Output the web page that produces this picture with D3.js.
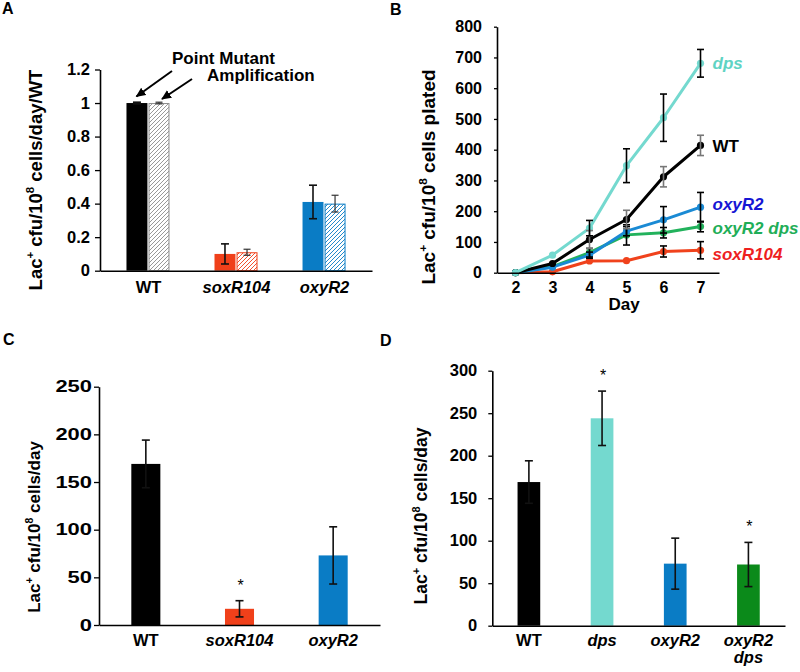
<!DOCTYPE html>
<html><head><meta charset="utf-8">
<script src="https://cdn.jsdelivr.net/npm/d3@7"></script>
<style>
html,body{margin:0;padding:0;background:#fff;}
svg{display:block;}
</style></head>
<body>
<svg id="chart" width="800" height="672"></svg>
<script>
// ---------- DATA ----------
// Panel A
const catsA = ["WT", "soxR104", "oxyR2"];
const pointMutant = [1.0, 0.10, 0.41];
const pointMutantErr = [0.005, 0.06, 0.10];
const amplification = [1.0, 0.11, 0.40];
const amplificationErr = [0.005, 0.018, 0.05];
const ticksA = [0, 0.2, 0.4, 0.6, 0.8, 1, 1.2];

// Panel B
const days = [2, 3, 4, 5, 6, 7];
const seriesB = ["dps", "WT", "oxyR2", "oxyR2 dps", "soxR104"];
const dpsVals = [0, 57, 145, 348, 504, 681];
const dpsErr = [0, 0, 25, 55, 77, 45];
const wtVals = [0, 30, 108, 173, 312, 414];
const wtErr = [0, 0, 29, 30, 33, 33];
const oxyR2Vals = [0, 18, 57, 135, 172, 213];
const oxyR2Err = [0, 0, 10, 15, 43, 48];
const oxyR2dpsVals = [0, 20, 65, 123, 130, 150];
const oxyR2dpsErr = [0, 0, 14, 33, 17, 17];
const soxR104Vals = [0, 3, 38, 39, 69, 73];
const soxR104Err = [0, 0, 0, 0, 18, 28];
const ticksB = [0, 100, 200, 300, 400, 500, 600, 700, 800];

// Panel C
const catsC = ["WT", "soxR104", "oxyR2"];
const valsC = [169, 17, 73];
const errC = [25, 8.5, 30];
const starC = [false, true, false];
const ticksC = [0, 50, 100, 150, 200, 250];

// Panel D
const catsD = ["WT", "dps", "oxyR2", "oxyR2 dps"];
const valsD = [169, 244, 73, 72];
const errD = [25, 32, 30, 26];
const starD = [false, true, false, true];
const ticksD = [0, 50, 100, 150, 200, 250, 300];

// ---------- STYLE ----------
const FONT = "'Liberation Sans', Arial, Helvetica, sans-serif";
const C_RED = "#f0401a", C_BLUE = "#0a7cc5", C_TURQ = "#74d9cf", C_GREEN_D = "#0b8a1a";
const colorsA = {WT: "#000000", soxR104: C_RED, oxyR2: C_BLUE};
const hatchA = {WT: "#8c8c8c", soxR104: C_RED, oxyR2: C_BLUE};
const colorsC = {WT: "#000000", soxR104: C_RED, oxyR2: C_BLUE};
const colorsD = {"WT": "#000000", "dps": C_TURQ, "oxyR2": C_BLUE, "oxyR2 dps": C_GREEN_D};
const lineColB = {"dps": "#74d9cf", "WT": "#000000", "oxyR2": "#1a8ad4", "oxyR2 dps": "#22b25c", "soxR104": "#f0421c"};
const labelColB = {"dps": "#5fd3c3", "WT": "#000000", "oxyR2": "#1616d4", "oxyR2 dps": "#1fae58", "soxR104": "#ee1f1f"};
const errColB = {"dps": "#000", "WT": "#777", "oxyR2": "#000", "oxyR2 dps": "#000", "soxR104": "#000"};

const svg = d3.select("#chart").attr("font-family", FONT);
const defs = svg.append("defs");

// hatch patterns
Object.entries(hatchA).forEach(([k, col]) => {
  const p = defs.append("pattern").attr("id", "hatch-" + k)
    .attr("patternUnits", "userSpaceOnUse").attr("width", 4).attr("height", 4);
  p.append("rect").attr("width", 4).attr("height", 4).attr("fill", "#fff");
  p.append("path").attr("d", "M-1,1 l2,-2 M0,4 l4,-4 M3,5 l2,-2")
    .attr("stroke", col).attr("stroke-width", 0.9);
});
// arrow marker
defs.append("marker").attr("id", "arrow").attr("viewBox", "0 0 10 10")
  .attr("refX", 9).attr("refY", 5).attr("markerWidth", 10).attr("markerHeight", 10)
  .attr("markerUnits", "userSpaceOnUse").attr("orient", "auto")
  .append("path").attr("d", "M0,0.5 L10,5 L0,9.5 z").attr("fill", "#000");

function panelLabel(x, y, t) {
  svg.append("text").attr("x", x).attr("y", y).attr("font-size", 16)
    .attr("font-weight", "bold").text(t);
}

function yTitle(x, y, size, rest) {
  const t = svg.append("text").attr("transform", `translate(${x},${y}) rotate(-90)`)
    .attr("text-anchor", "middle").attr("font-size", size).attr("font-weight", "bold");
  const sh = size * 0.42;
  t.append("tspan").text("Lac");
  t.append("tspan").attr("dy", -sh).attr("font-size", size * 0.62).text("+");
  t.append("tspan").attr("dy", sh).text(" cfu/10");
  t.append("tspan").attr("dy", -sh).attr("font-size", size * 0.62).text("8");
  t.append("tspan").attr("dy", sh).text(rest);
}

function styleYAxis(g, fs) {
  g.select(".domain").attr("stroke", "#000").attr("stroke-width", 1.6);
  g.selectAll(".tick line").attr("stroke", "#000").attr("stroke-width", 1.3);
  g.selectAll(".tick text").attr("font-size", fs).attr("font-weight", "bold")
    .attr("font-family", FONT).attr("fill", "#000");
}
function styleXAxis(g, fs) {
  g.select(".domain").attr("stroke", "#000").attr("stroke-width", 1.6);
  g.selectAll(".tick line").remove();
  g.selectAll(".tick text").attr("font-size", fs).attr("font-weight", "bold")
    .attr("font-family", FONT).attr("fill", "#000")
    .attr("font-style", d => (d === "WT" || typeof d === "number") ? "normal" : "italic");
}

function errorBar(g, cx, yTop, yBot, cap, col, sw) {
  g.append("line").attr("x1", cx).attr("x2", cx).attr("y1", yTop).attr("y2", yBot)
    .attr("stroke", col).attr("stroke-width", sw);
  [yTop, yBot].forEach(yy => g.append("line").attr("x1", cx - cap / 2).attr("x2", cx + cap / 2)
    .attr("y1", yy).attr("y2", yy).attr("stroke", col).attr("stroke-width", sw));
}

// ================= PANEL A =================
panelLabel(2, 14, "A");
{
  const x = d3.scalePoint().domain(catsA).range([100, 372]).padding(0.545);
  const sub = d3.scaleBand().domain(["pm", "amp"]).range([-21.5, 21.5]).paddingInner(0.05);
  const y = d3.scaleLinear().domain([0, 1.2]).range([270.7, 69.5]);
  const g = svg.append("g");
  const bw = sub.bandwidth();

  catsA.forEach((c, i) => {
    const xpm = x(c) + sub("pm");
    g.append("rect").attr("x", xpm).attr("y", y(pointMutant[i])).attr("width", bw)
      .attr("height", y(0) - y(pointMutant[i])).attr("fill", colorsA[c]);
    const xam = x(c) + sub("amp");
    g.append("rect").attr("x", xam + 0.5).attr("y", y(amplification[i]) + 0.5).attr("width", bw - 1)
      .attr("height", y(0) - y(amplification[i]) - 0.5).attr("fill", `url(#hatch-${c})`)
      .attr("stroke", hatchA[c]).attr("stroke-width", 1);
  });
  catsA.forEach((c, i) => {
    const cpm = x(c) + sub("pm") + bw / 2;
    errorBar(g, cpm, y(pointMutant[i] + pointMutantErr[i]), y(pointMutant[i] - pointMutantErr[i]), 8, "#111", 1.6);
    const cam = x(c) + sub("amp") + bw / 2;
    errorBar(g, cam, y(amplification[i] + amplificationErr[i]), y(amplification[i] - amplificationErr[i]), 7, "#333", 1.2);
  });

  const ya = svg.append("g").attr("transform", "translate(100,0)")
    .call(d3.axisLeft(y).tickValues(ticksA).tickFormat(d => d).tickSize(5).tickPadding(5).tickSizeOuter(0));
  styleYAxis(ya, 16.5);
  const xa = svg.append("g").attr("transform", `translate(0,${y(0)})`)
    .call(d3.axisBottom(x).tickSize(0).tickPadding(10.5));
  styleXAxis(xa, 16.5);

  yTitle(42, 180, 18.5, " cells/day/WT");

  // annotations
  const tip1 = [x("WT") + sub("pm") + bw / 2 - 0.5, y(1) - 6.5];
  const tip2 = [x("WT") + sub("amp") + bw / 2 + 3, y(1) - 4];
  svg.append("line").attr("x1", 172).attr("y1", 71).attr("x2", tip1[0]).attr("y2", tip1[1])
    .attr("stroke", "#000").attr("stroke-width", 2).attr("marker-end", "url(#arrow)");
  svg.append("line").attr("x1", 192).attr("y1", 79).attr("x2", tip2[0]).attr("y2", tip2[1])
    .attr("stroke", "#000").attr("stroke-width", 2).attr("marker-end", "url(#arrow)");
  svg.append("text").attr("x", 172).attr("y", 64).attr("font-size", 17).attr("font-weight", "bold").text("Point Mutant");
  svg.append("text").attr("x", 207).attr("y", 81).attr("font-size", 17).attr("font-weight", "bold").text("Amplification");
}

// ================= PANEL B =================
panelLabel(390, 15, "B");
{
  const x = d3.scalePoint().domain(days).range([497, 719]).padding(0.5);
  const y = d3.scaleLinear().domain([0, 800]).range([272.7, 26.7]);
  const g = svg.append("g");
  const data = {
    "dps": [dpsVals, dpsErr], "WT": [wtVals, wtErr], "oxyR2": [oxyR2Vals, oxyR2Err],
    "oxyR2 dps": [oxyR2dpsVals, oxyR2dpsErr], "soxR104": [soxR104Vals, soxR104Err]
  };
  const line = d3.line().x((d, i) => x(days[i])).y(d => y(d));
  const drawOrder = ["soxR104", "oxyR2 dps", "oxyR2", "WT", "dps"];
  drawOrder.forEach(s => {
    const [v] = data[s];
    g.append("path").attr("d", line(v)).attr("fill", "none").attr("stroke", lineColB[s])
      .attr("stroke-width", 3).attr("stroke-linejoin", "round");
    v.forEach((d, i) => g.append("circle").attr("cx", x(days[i])).attr("cy", y(d)).attr("r", 3.6)
      .attr("fill", lineColB[s]));
  });
  drawOrder.forEach(s => {
    const [v, e] = data[s];
    v.forEach((d, i) => {
      if (e[i] > 0) errorBar(g, x(days[i]), y(d + e[i]), y(d - e[i]), 7, errColB[s], 1.6);
    });
  });
  // series labels
  const dyOff = {"dps": 0, "WT": 0.5, "oxyR2": -3, "oxyR2 dps": 1.5, "soxR104": 3.5};
  seriesB.forEach(s => {
    const v = data[s][0];
    svg.append("text").attr("x", x(7) + 12).attr("y", y(v[v.length - 1]) + dyOff[s])
      .attr("dy", "0.36em").attr("font-size", 17).attr("font-weight", "bold")
      .attr("font-style", s === "WT" ? "normal" : "italic").attr("fill", labelColB[s]).text(s);
  });

  const ya = svg.append("g").attr("transform", "translate(497,0)")
    .call(d3.axisLeft(y).tickValues(ticksB).tickSize(3).tickPadding(12).tickSizeOuter(0));
  styleYAxis(ya, 16);
  const xa = svg.append("g").attr("transform", `translate(0,${y(0)})`)
    .call(d3.axisBottom(x).tickSize(0).tickPadding(9));
  styleXAxis(xa, 16);
  svg.append("text").attr("x", 624).attr("y", 310).attr("text-anchor", "middle")
    .attr("font-size", 17).attr("font-weight", "bold").text("Day");
  yTitle(435, 177, 19, " cells plated");
}

// ================= PANEL C =================
panelLabel(3, 345, "C");
{
  const x = d3.scaleBand().domain(catsC).range([99, 380]).paddingInner(0.69).paddingOuter(0.345);
  const y = d3.scaleLinear().domain([0, 250]).range([625, 386.7]);
  const g = svg.append("g");
  catsC.forEach((c, i) => {
    g.append("rect").attr("x", x(c)).attr("y", y(valsC[i])).attr("width", x.bandwidth())
      .attr("height", y(0) - y(valsC[i])).attr("fill", colorsC[c]);
  });
  catsC.forEach((c, i) => {
    const cx = x(c) + x.bandwidth() / 2;
    errorBar(g, cx, y(valsC[i] + errC[i]), y(valsC[i] - errC[i]), 8, "#111", 1.6);
    if (starC[i]) g.append("text").attr("x", cx + 1).attr("y", y(valsC[i] + errC[i]) - 10)
      .attr("text-anchor", "middle").attr("font-size", 16).text("*");
  });
  const ya = svg.append("g").attr("transform", "translate(99,0)")
    .call(d3.axisLeft(y).tickValues(ticksC).tickSize(5).tickPadding(3).tickSizeOuter(0));
  styleYAxis(ya, 16.5);
  // tick labels in this panel are drawn horizontally widened
  const stretch = 1.33;
  ya.selectAll(".tick text").attr("x", -7 / stretch).attr("transform", `scale(${stretch},1)`);
  const xa = svg.append("g").attr("transform", `translate(0,${y(0)})`)
    .call(d3.axisBottom(x).tickSize(0).tickPadding(9.5));
  styleXAxis(xa, 16.5);
  yTitle(40, 527, 17, " cells/day");
}

// ================= PANEL D =================
panelLabel(380, 346, "D");
{
  const x = d3.scaleBand().domain(catsD).range([492.3, 785]).paddingInner(0.69).paddingOuter(0.345);
  const y = d3.scaleLinear().domain([0, 300]).range([625.7, 370.7]);
  const g = svg.append("g");
  catsD.forEach((c, i) => {
    g.append("rect").attr("x", x(c)).attr("y", y(valsD[i])).attr("width", x.bandwidth())
      .attr("height", y(0) - y(valsD[i])).attr("fill", colorsD[c]);
  });
  catsD.forEach((c, i) => {
    const cx = x(c) + x.bandwidth() / 2;
    errorBar(g, cx, y(valsD[i] + errD[i]), y(valsD[i] - errD[i]), 8, "#111", 1.6);
    if (starD[i]) g.append("text").attr("x", cx + 1).attr("y", y(valsD[i] + errD[i]) - 10)
      .attr("text-anchor", "middle").attr("font-size", 16).text("*");
  });
  const ya = svg.append("g").attr("transform", "translate(492.3,0)")
    .call(d3.axisLeft(y).tickValues(ticksD).tickSize(4).tickPadding(11).tickSizeOuter(0));
  styleYAxis(ya, 16.5);
  const xa = svg.append("g").attr("transform", `translate(0,${y(0)})`)
    .call(d3.axisBottom(x).tickSize(0).tickPadding(8.5));
  styleXAxis(xa, 16.5);
  // two-line label
  xa.selectAll(".tick text").each(function (d) {
    const parts = d.split(" ");
    if (parts.length > 1) {
      const t = d3.select(this).text(null);
      parts.forEach((p, k) => t.append("tspan").attr("x", 0).attr("dy", k === 0 ? "0.71em" : "1.05em").text(p));
    }
  });
  yTitle(427, 516, 17.5, " cells/day");
}
</script>
</body></html>
